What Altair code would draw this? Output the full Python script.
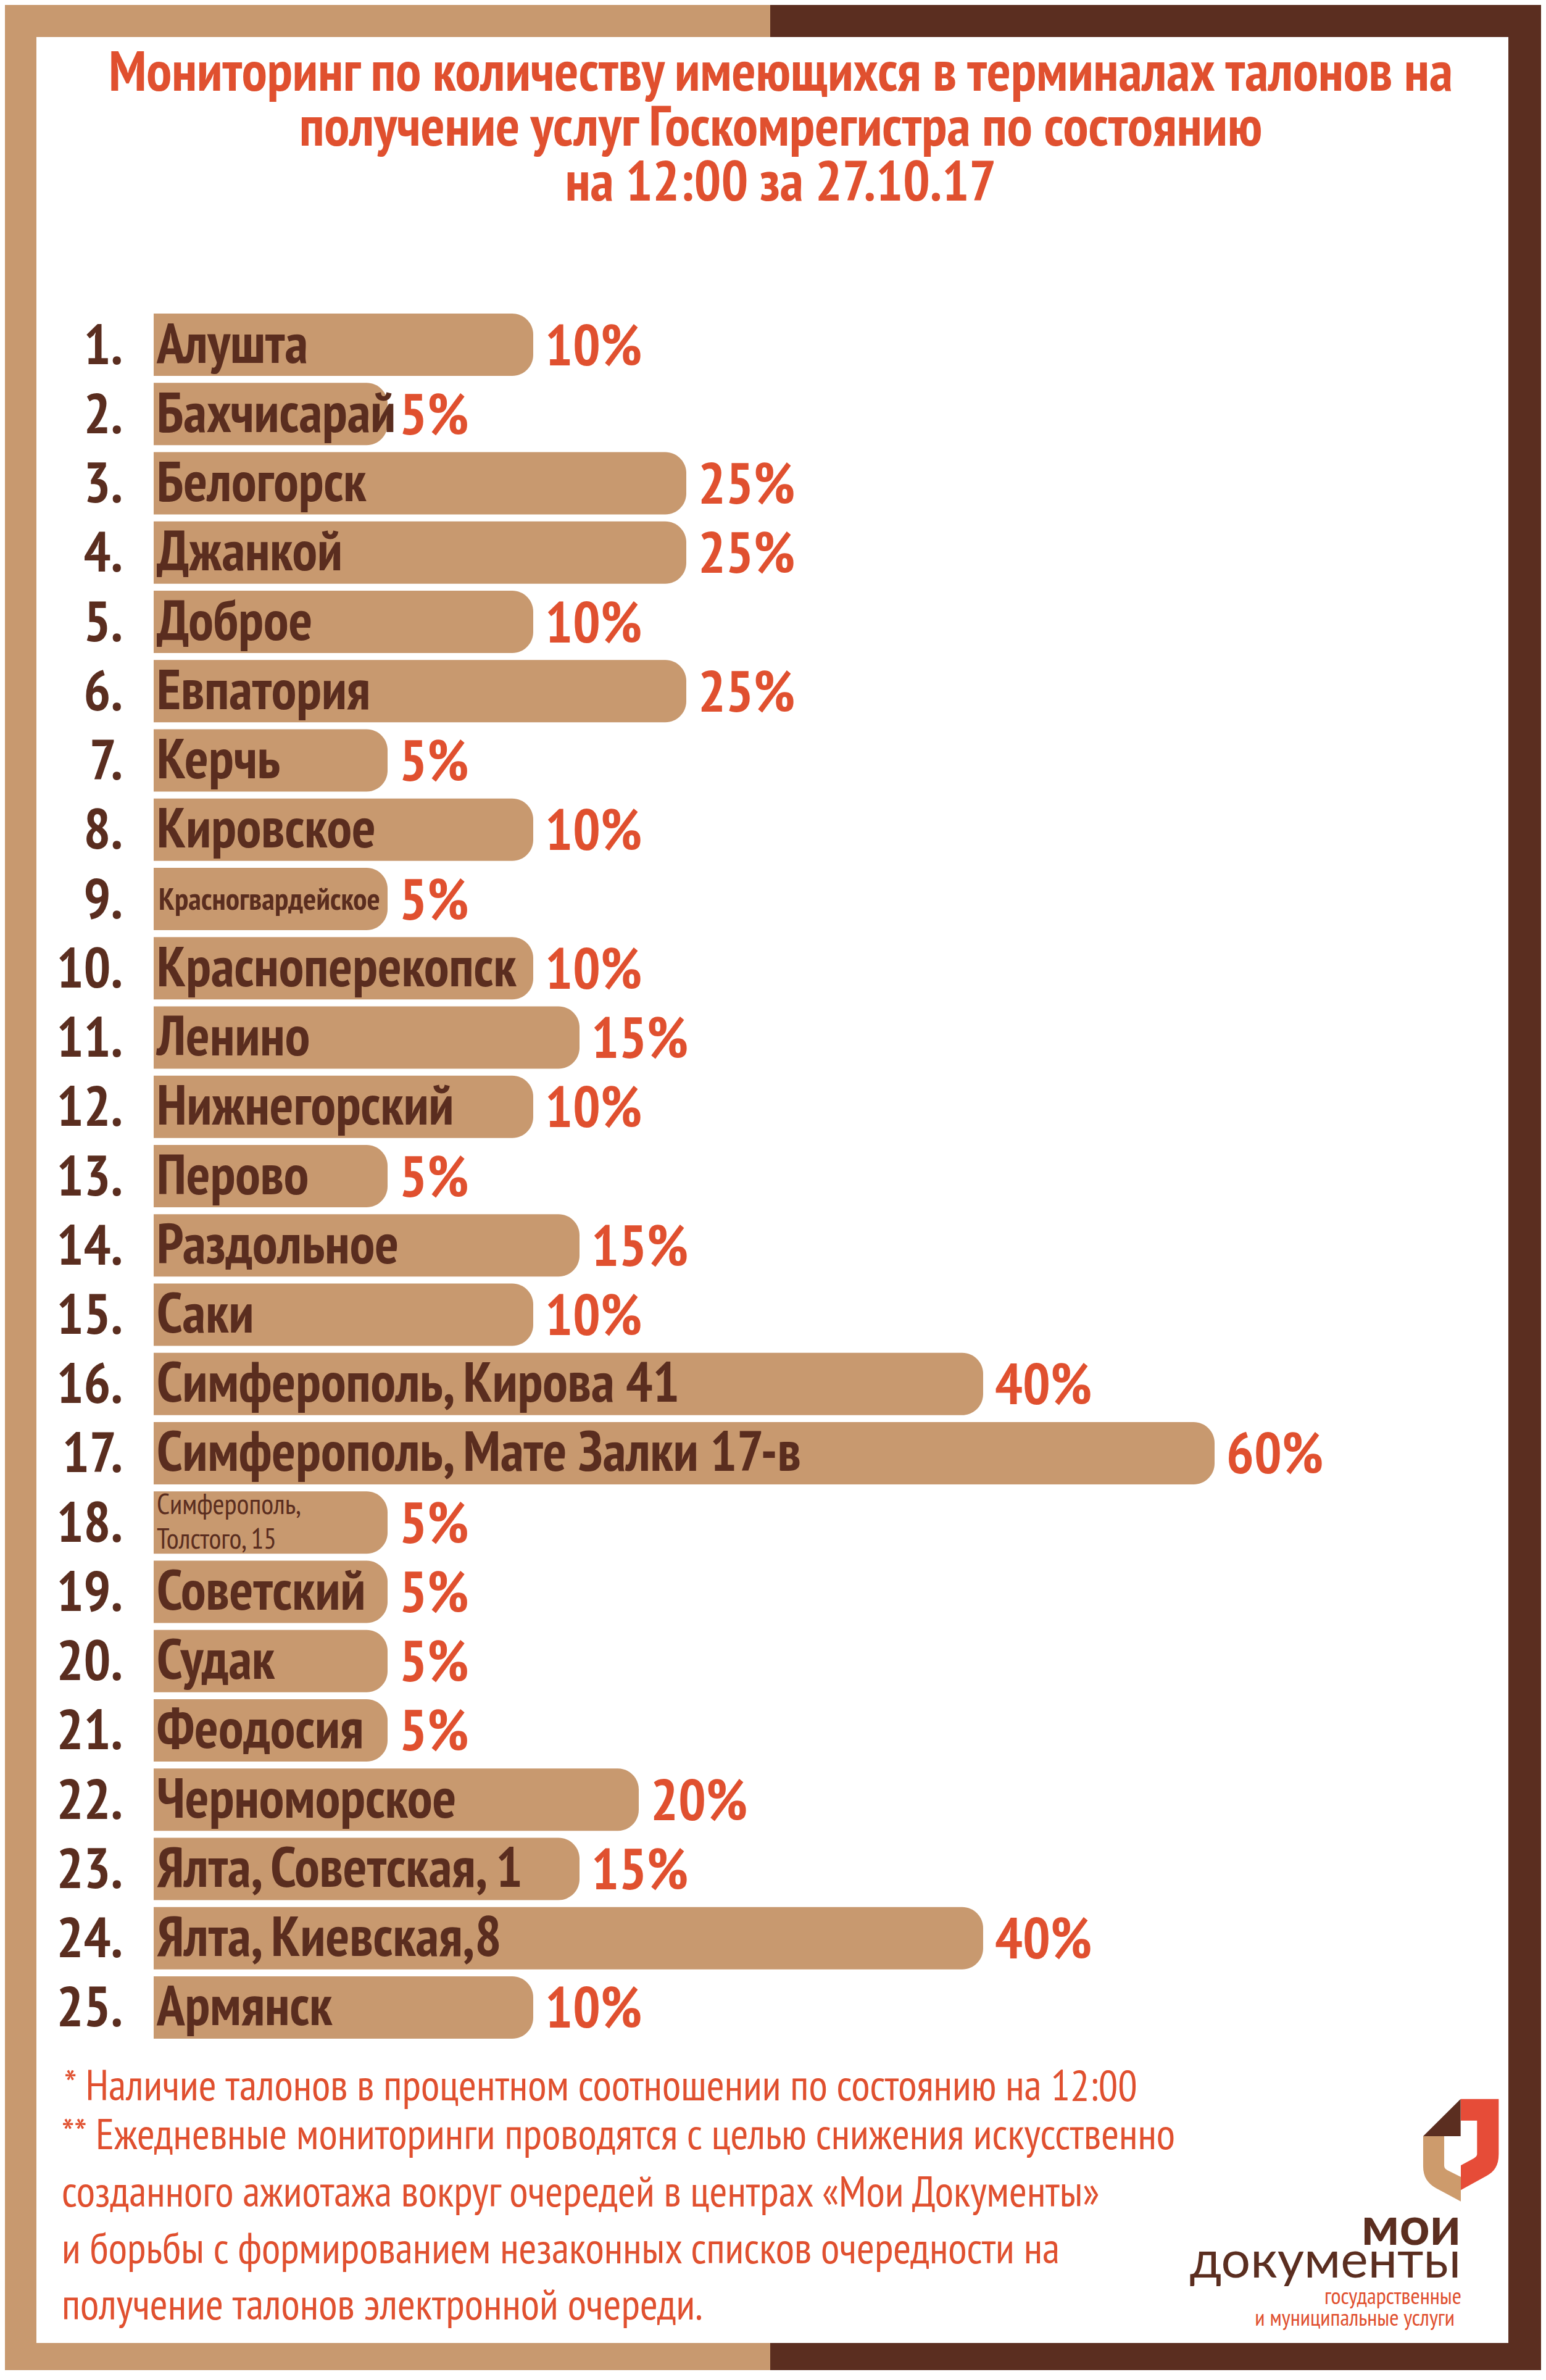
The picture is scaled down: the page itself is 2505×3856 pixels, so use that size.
import altair as alt
import pandas as pd

# ---------------- data ----------------
names = ["Алушта", "Бахчисарай", "Белогорск", "Джанкой", "Доброе", "Евпатория",
         "Керчь", "Кировское", "Красногвардейское", "Красноперекопск", "Ленино",
         "Нижнегорский", "Перово", "Раздольное", "Саки", "Симферополь, Кирова 41",
         "Симферополь, Мате Залки 17-в", "Симферополь,\n Толстого, 15", "Советский",
         "Судак", "Феодосия", "Черноморское", "Ялта, Советская, 1", "Ялта, Киевская,8",
         "Армянск"]
values = [10, 5, 25, 25, 10, 25, 5, 10, 5, 10, 15, 10, 5, 15, 10, 40, 60, 5, 5, 5, 5,
          20, 15, 40, 10]
numbers = [f"{i}." for i in range(1, len(names) + 1)]
small_rows = ["Красногвардейское"]
two_line_rows = ["Симферополь,\n Толстого, 15"]

title_lines = ["Мониторинг по количеству имеющихся в терминалах талонов на",
               "получение услуг Госкомрегистра по состоянию",
               "на 12:00 за 27.10.17"]
notes = ["* Наличие талонов в процентном соотношении по состоянию на 12:00",
         "** Ежедневные мониторинги проводятся с целью снижения искусственно",
         "созданного ажиотажа вокруг очередей в центрах «Мои Документы»",
         "и борьбы с формированием незаконных списков очередности на",
         "получение талонов электронной очереди."]
logo_texts = ["мои", "документы", "государственные", "и муниципальные услуги"]

# ---------------- styles ----------------
W, H = 2489, 3832
TAN = "#c8996f"
BROWN = "#5b2e20"
RED = "#e0502f"
TEXT_BROWN = "#5a2d1f"
NARROW = "'PT Sans Narrow', 'Roboto Condensed', 'DejaVu Sans Condensed', sans-serif"
LOGO = "Lato, 'Open Sans', sans-serif"

df = pd.DataFrame({
    "idx": list(range(1, len(names) + 1)),
    "num": numbers,
    "name": names,
    "value": values,
    "pct": [f"{v}%" for v in values],
})
df["zero"] = 0
df["kind"] = ["small" if n in small_rows else ("two" if n in two_line_rows else "normal")
              for n in names]

one = alt.Data(values=[{"a": 1}])

# the reference bars are not proportional; a piecewise scale follows its design
x_scale = alt.Scale(domain=[0, 5, 10, 15, 20, 25, 40, 60],
                    range=[241, 620, 856, 931, 1027, 1104, 1585, 1960],
                    nice=False, zero=False)
y_scale = alt.Scale(range=[500, 3295], paddingInner=0.1, paddingOuter=0)
Y = alt.Y("idx:O", scale=y_scale, axis=None)


def rect(x1, x2, y1, y2, color):
    return alt.Chart(one).mark_rect(color=color, strokeWidth=0).encode(
        x=alt.value(x1), x2=alt.value(x2), y=alt.value(y1), y2=alt.value(y2))


layers = [
    rect(0, 1240, 0, H, TAN),
    rect(1240, W, 0, H, BROWN),
    rect(51, 2436, 52, 3788, "#ffffff"),
]

base = alt.Chart(df)

bars = base.mark_bar(color=TAN, cornerRadiusTopRight=34, cornerRadiusBottomRight=34).encode(
    x=alt.X("value:Q", scale=x_scale, axis=None),
    x2="zero:Q",
    y=Y,
)
layers.append(bars)

layers.append(base.mark_text(align="right", baseline="alphabetic", dy=31, font=NARROW,
                             fontWeight="bold", fontSize=92, color=TEXT_BROWN).encode(
    x=alt.value(191), y=Y, text="num:N"))

layers.append(base.transform_filter(alt.datum.kind == "normal").mark_text(
    align="left", baseline="alphabetic", dy=29, font=NARROW, fontWeight="bold",
    fontSize=91, color=TEXT_BROWN).encode(x=alt.value(246), y=Y, text="name:N"))

layers.append(base.transform_filter(alt.datum.kind == "small").mark_text(
    align="left", baseline="alphabetic", dy=17, font=NARROW, fontWeight="bold",
    fontSize=50, color=TEXT_BROWN).encode(x=alt.value(249), y=Y, text="name:N"))

layers.append(base.transform_filter(alt.datum.kind == "two").mark_text(
    align="left", baseline="alphabetic", dy=-14, font=NARROW, fontWeight="normal",
    fontSize=46, lineHeight=56, lineBreak="\n", color=TEXT_BROWN).encode(
    x=alt.value(246), y=Y, text="name:N"))

layers.append(base.mark_text(align="left", baseline="alphabetic", dx=19, dy=33,
                             font=NARROW, fontWeight="bold", fontSize=94, color=RED).encode(
    x=alt.X("value:Q", scale=x_scale, axis=None), y=Y, text="pct:N"))

# title
title_y = [139, 228, 317]
for line, ty in zip(title_lines, title_y):
    layers.append(alt.Chart(one).mark_text(
        align="center", baseline="alphabetic", font=NARROW, fontWeight="bold",
        fontSize=92, color=RED, text=line).encode(x=alt.value(1257), y=alt.value(ty)))

# footnotes
note_pos = [(96, 3395), (92, 3474), (92, 3567), (92, 3659), (92, 3750)]
for line, (nx, ny) in zip(notes, note_pos):
    layers.append(alt.Chart(one).mark_text(
        align="left", baseline="alphabetic", font=NARROW, fontWeight="normal",
        fontSize=70, color=RED, text=line).encode(x=alt.value(nx), y=alt.value(ny)))

# logo emblem
logo_shapes = [
    ("M -0.731 -0.269 L -0.004 -0.992 L -0.004 -0.269 Z", BROWN),
    ("M 0 -0.992 L 0.735 -0.992 L 0.735 0.078 C 0.735 0.30 0.65 0.42 0.50 0.50 "
     "L 0 0.776 L 0 0.297 L 0.255 0.158 Q 0.315 0.12 0.315 0.078 L 0.315 -0.573 "
     "L 0 -0.573 Z", "#e64c38"),
    ("M -0.731 -0.269 L -0.323 -0.269 L -0.323 0.30 Q -0.323 0.36 -0.263 0.39 "
     "L 0 0.52 L 0 0.996 L -0.48 0.74 C -0.64 0.65 -0.731 0.52 -0.731 0.317 Z", "#cd9b6c"),
]
for path, col in logo_shapes:
    layers.append(alt.Chart(one).mark_point(
        shape=path, filled=True, size=167 * 167, color=col, opacity=1,
        strokeWidth=0).encode(x=alt.value(2359), y=alt.value(3475.5)))

logo_style = [
    (2359, 3629, LOGO, "bold", 86, BROWN),
    (2359, 3682, LOGO, "normal", 84, BROWN),
    (2360, 3725, NARROW, "normal", 37, RED),
    (2349, 3760, NARROW, "normal", 37, RED),
]
for txt, (lx, ly, fnt, fw, fs, col) in zip(logo_texts, logo_style):
    layers.append(alt.Chart(one).mark_text(
        align="right", baseline="alphabetic", font=fnt, fontWeight=fw, fontSize=fs,
        color=col, text=txt).encode(x=alt.value(lx), y=alt.value(ly)))

chart = alt.layer(*layers).properties(
    width=W, height=H, padding=0, autosize=alt.AutoSizeParams(type="none"),
    background="#ffffff",
).configure_view(stroke=None)

chart.save("out.html", embed_options={"renderer": "svg", "actions": False})
